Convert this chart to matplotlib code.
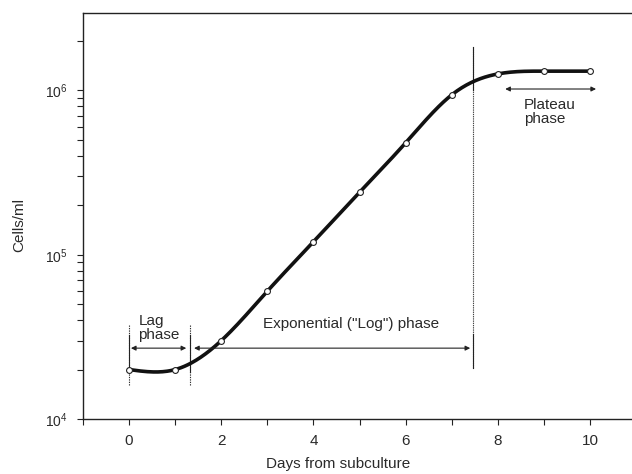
import numpy as np
import matplotlib
matplotlib.use("Agg")
import matplotlib.pyplot as plt

plt.rcParams['font.family'] = ['Liberation Sans', 'DejaVu Sans']
plt.rcParams['mathtext.default'] = 'regular'

# growth curve readings
days = np.array([0, 1, 2, 3, 4, 5, 6, 7, 8, 9, 10])
cells = np.array([2.0e4, 2.0e4, 3.0e4, 6.0e4, 1.2e5, 2.4e5, 4.8e5, 9.4e5,
                  1.26e6, 1.31e6, 1.31e6])

x_ticks = [0, 2, 4, 6, 8, 10]
y_ticks = [1e4, 1e5, 1e6]
y_labels = ['$10^{4}$', '$10^{5}$', '$10^{6}$']

lag_end = 1.32
log_end = 7.46
ink = '#2a2a2a'


def natural_spline(x, y, xs):
    # natural cubic spline through (x, y), evaluated at xs
    n = len(x)
    h = np.diff(x)
    A = np.zeros((n, n))
    b = np.zeros(n)
    A[0, 0] = A[-1, -1] = 1
    for i in range(1, n - 1):
        A[i, i - 1] = h[i - 1]
        A[i, i] = 2 * (h[i - 1] + h[i])
        A[i, i + 1] = h[i]
        b[i] = 3 * ((y[i + 1] - y[i]) / h[i] - (y[i] - y[i - 1]) / h[i - 1])
    c = np.linalg.solve(A, b)
    out = np.empty_like(xs)
    for k, xv in enumerate(xs):
        i = min(np.searchsorted(x, xv, side='right') - 1, n - 2)
        d = xv - x[i]
        bi = (y[i + 1] - y[i]) / h[i] - h[i] * (2 * c[i] + c[i + 1]) / 3
        di = (c[i + 1] - c[i]) / (3 * h[i])
        out[k] = y[i] + bi * d + c[i] * d ** 2 + di * d ** 3
    return out


xs = np.linspace(days[0], days[-1], 400)
ys = 10 ** natural_spline(days.astype(float), np.log10(cells), xs)

fig = plt.figure(figsize=(6.32, 4.74), dpi=100)
ax = fig.add_axes([0.1313, 0.116, 0.8687, 0.8566])

ax.plot(xs, ys, color='#111111', lw=2.6, solid_capstyle='round', zorder=3)
ax.plot(days, cells, 'o', ms=4.2, mfc='white', mec='#222222', mew=0.8, zorder=4)

ax.set_yscale('log')
ax.set_xlim(-1.0, 10.91)
ax.set_ylim(1e4, 2.96e6)

ax.set_xticks(x_ticks)
ax.set_xticks([-1, 1, 3, 5, 7, 9], minor=True)
ax.set_yticks(y_ticks)
ax.set_yticklabels(y_labels)
ax.tick_params(axis='both', which='both', direction='out', length=4,
               width=0.8, color='#222222', labelcolor=ink)
ax.tick_params(axis='x', pad=7, labelsize=11)
ax.tick_params(axis='y', pad=7, labelsize=10)

ax.spines['right'].set_visible(False)
for s in ['left', 'top', 'bottom']:
    ax.spines[s].set_linewidth(1.0)
    ax.spines[s].set_color('#222222')

ax.set_xlabel('Days from subculture', fontsize=11, color=ink)
ax.set_ylabel('Cells/ml', fontsize=11, color=ink)
ax.xaxis.set_label_coords(0.465, -0.094)
ax.yaxis.set_label_coords(-0.104, 0.478)

# phase boundaries
for xv in [0, lag_end]:
    ax.plot([xv, xv], [1.61e4, 3.73e4], color='#333333', lw=0.8, ls=(0, (1.2, 1.0)))
    ax.plot([xv, xv], [1.93e4, 3.24e4], color='#222222', lw=0.8)
ax.plot([log_end, log_end], [2.04e4, 1.85e6], color='#444444', lw=0.8, ls=(0, (1.2, 0.8)))
ax.plot([log_end, log_end], [1.0e6, 1.85e6], color='#222222', lw=0.8)
ax.plot([log_end, log_end], [2.04e4, 3.3e4], color='#222222', lw=0.8)

arrow = dict(arrowstyle='<|-|>', color='#222222', lw=0.8, mutation_scale=7,
             shrinkA=0, shrinkB=0)
ax.annotate('', xy=(0.04, 2.7e4), xytext=(1.24, 2.7e4), arrowprops=arrow)
ax.annotate('', xy=(1.41, 2.7e4), xytext=(7.40, 2.7e4), arrowprops=arrow)
ax.annotate('', xy=(8.16, 1.02e6), xytext=(10.13, 1.02e6), arrowprops=arrow)

ax.text(0.2, 2.94e4, 'Lag\nphase', fontsize=11, color=ink, ha='left', va='bottom',
        linespacing=1.05)
ax.text(4.82, 3.78e4, 'Exponential ("Log") phase', fontsize=11, color=ink,
        ha='center', va='center')
ax.text(8.57, 9.0e5, 'Plateau\nphase', fontsize=11, color=ink, ha='left', va='top',
        linespacing=1.05)

fig.savefig('out.png', dpi=100)
